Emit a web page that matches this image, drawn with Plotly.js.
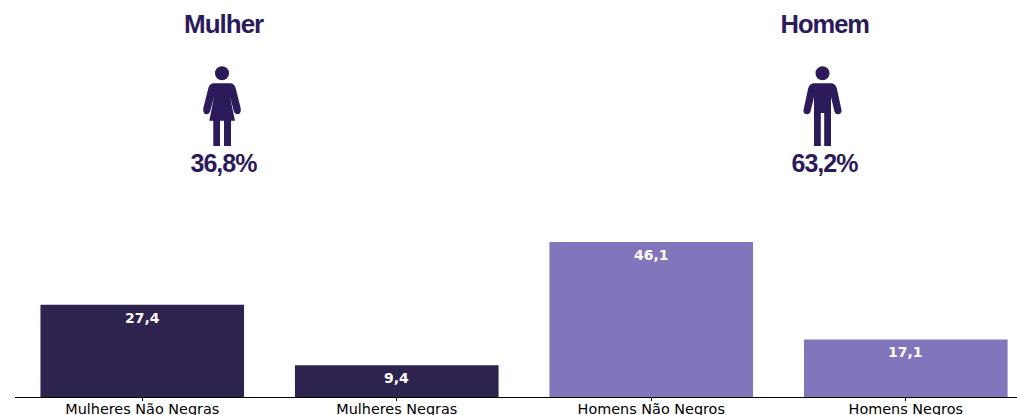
<!DOCTYPE html>
<html><head><meta charset="utf-8">
<script src="https://cdn.plot.ly/plotly-3.0.1.min.js"></script>
<style>html,body{margin:0;padding:0;background:#fff;overflow:hidden}
.infolayer .annotation[data-index="0"] text,.infolayer .annotation[data-index="1"] text,.infolayer .annotation[data-index="2"] text,.infolayer .annotation[data-index="3"] text{letter-spacing:-1px}
</style></head><body><div id="c" style="width:1017px;height:415px"></div>
<script>
const categories = ['Mulheres Não Negras','Mulheres Negras','Homens Não Negros','Homens Negros'];
const values = [27.4, 9.4, 46.1, 17.1];
const valueLabels = ['27,4','9,4','46,1','17,1'];
const barColors = ['#2E224E','#2E224E','#8175BC','#8175BC'];
const groupNames = ['Mulher','Homem'];
const groupShares = ['36,8%','63,2%'];
const ink = '#2C1A5A';

const womanBody = 'M-8.7,22.7 L8.7,22.7 Q12.5,22.3 13.7,17.7 L18.7,-2.3 Q19.5,-7 16.3,-8.3 Q13,-8.5 12,-5.7 L8,9.3 L13,-14.7 L9,-14.7 L9,-40 L2,-40 L2,-14.7 L-2,-14.7 L-2,-40 L-8.7,-40 L-8.7,-14.7 L-12.7,-14.7 L-8,9.3 L-12,-5.7 Q-13,-8.5 -16.3,-8.3 Q-19.5,-7 -18.7,-2.3 L-13.7,17.7 Q-12.5,22.3 -8.7,22.7 Z';
const manBody = 'M-9,22.7 L9,22.7 Q13,22.3 14.3,17.7 L19,-4 Q19.5,-7.5 16,-8.3 Q13,-8.5 12,-5.7 L8.5,9 L8.5,-40 L1.7,-40 L1.7,-7 L-1.7,-7 L-1.7,-40 L-8.5,-40 L-8.5,9 L-12,-5.7 Q-13,-8.5 -16,-8.3 Q-19.5,-7.5 -19,-4 L-14.3,17.7 Q-13,22.3 -9,22.7 Z';

const W = 1017, L = 15, axisY = 397;
const px = x => (x - L) / (W - L);
const py = y => 1 - y / axisY;
function icon(cx, cy, body) {
  const base = {xref:'paper', yref:'paper', xsizemode:'pixel', ysizemode:'pixel',
    xanchor:px(cx), yanchor:py(cy), fillcolor:ink, line:{width:0}, layer:'above'};
  return [
    Object.assign({type:'path', path:body}, base),
    Object.assign({type:'circle', x0:-7, x1:7, y0:25.7, y1:39.7}, base)
  ];
}
const headFont = s => ({family:'Liberation Sans, Arial, sans-serif', size:s, color:ink});
const annotations = [
  {text:'<b>'+groupNames[0]+'</b>', cx:223, cy:24, s:26},
  {text:'<b>'+groupNames[1]+'</b>', cx:825, cy:24, s:25.5},
  {text:'<b>'+groupShares[0]+'</b>', cx:223.5, cy:163, s:25},
  {text:'<b>'+groupShares[1]+'</b>', cx:824, cy:163, s:25}
].map(a => ({xref:'paper', yref:'paper', x:px(a.cx), y:py(a.cy), text:a.text, showarrow:false,
  xanchor:'center', yanchor:'middle', font:headFont(a.s)}));
categories.forEach((c,i) => annotations.push({xref:'x', yref:'y', x:c, y:values[i], yshift:-13,
  text:'<b>'+valueLabels[i]+'</b>', showarrow:false, xanchor:'center', yanchor:'middle',
  font:{family:'DejaVu Sans', size:14, color:'#fff'}}));

Plotly.newPlot('c', [{type:'bar', x:categories, y:values, width:0.8,
  marker:{color:barColors, line:{width:0}}, hoverinfo:'x+y'}], {
  width:W, height:415, margin:{l:L, r:0, t:0, b:415-axisY, pad:0},
  paper_bgcolor:'#fff', plot_bgcolor:'#fff', showlegend:false,
  xaxis:{type:'category', range:[-0.5, 3.437], showgrid:false, zeroline:false, showline:true,
    linecolor:'#000', linewidth:1, ticks:'outside', ticklen:3, tickwidth:1, tickcolor:'#000',
    ticklabelstandoff:-4,
    tickfont:{family:'DejaVu Sans', size:14.4, color:'#000'}, automargin:false},
  yaxis:{range:[0,118], visible:false, fixedrange:true},
  shapes:[...icon(222,106,womanBody), ...icon(822.5,106,manBody)],
  annotations
}, {displayModeBar:false, responsive:false});
</script></body></html>
